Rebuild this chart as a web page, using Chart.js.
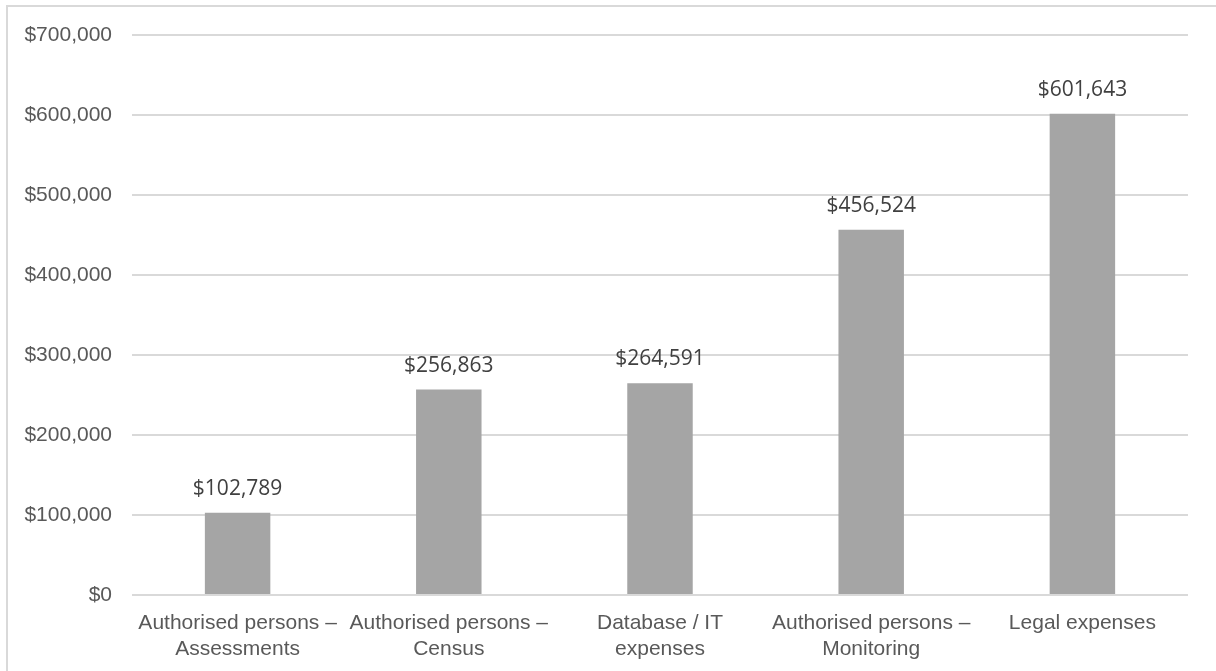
<!DOCTYPE html>
<html>
<head>
<meta charset="utf-8">
<script src="https://cdn.jsdelivr.net/npm/chart.js@4/dist/chart.umd.min.js"></script>
<style>
    body { margin: 0; background: #fff; width: 1216px; height: 671px; overflow: hidden; }
    #frame {
        position: absolute; left: 6px; top: 5px;
        width: 1210px; height: 666px;
        border-top: 2px solid #d9d9d9; border-left: 2px solid #d9d9d9;
    }
    canvas { display: block; }
</style>
</head>
<body>
<div id="frame"><canvas id="costChart" width="1208" height="664"></canvas></div>
<script>
// Data
const categories = [
    ['Authorised persons \u2013', 'Assessments'],
    ['Authorised persons \u2013', 'Census'],
    ['Database / IT', 'expenses'],
    ['Authorised persons \u2013', 'Monitoring'],
    'Legal expenses'
];
const costs = [102789, 256863, 264591, 456524, 601643];
const yTicks = [0, 100000, 200000, 300000, 400000, 500000, 600000, 700000];

const money = v => '$' + v.toLocaleString('en-US');

// Value labels above bars
const barLabels = {
    id: 'barLabels',
    afterDatasetsDraw(chart) {
        const ctx = chart.ctx;
        const meta = chart.getDatasetMeta(0);
        ctx.save();
        ctx.font = '21px "Open Sans"';
        ctx.fillStyle = '#404040';
        ctx.textAlign = 'center';
        ctx.textBaseline = 'alphabetic';
        meta.data.forEach((bar, i) => {
            ctx.fillText(money(costs[i]), bar.x, bar.y - 18);
        });
        ctx.restore();
    }
};

const ctx = document.getElementById('costChart').getContext('2d');
new Chart(ctx, {
    type: 'bar',
    data: {
        labels: categories,
        datasets: [{
            data: costs,
            backgroundColor: '#a5a5a5',
            borderWidth: 0,
            barPercentage: 0.31,
            categoryPercentage: 1
        }]
    },
    options: {
        responsive: false,
        animation: false,
        layout: { padding: { top: 28, right: 28, bottom: 0, left: 0 } },
        plugins: {
            legend: { display: false },
            tooltip: { enabled: false }
        },
        scales: {
            x: {
                grid: { display: false },
                border: { display: false },
                ticks: {
                    color: '#595959',
                    font: { family: '"Liberation Sans", Arial', size: 21, lineHeight: 1.2 },
                    padding: 8,
                    maxRotation: 0,
                    autoSkip: false
                },
                afterFit(scale) { scale.height = 76; }
            },
            y: {
                min: 0,
                max: 700000,
                border: { display: false },
                grid: { color: '#d9d9d9', lineWidth: 2, drawTicks: false },
                afterBuildTicks(scale) { scale.ticks = yTicks.map(v => ({ value: v })); },
                ticks: {
                    color: '#595959',
                    font: { family: '"Liberation Sans", Arial', size: 21 },
                    padding: 20,
                    callback: v => money(v)
                },
                afterFit(scale) {
                    scale.width = 124;
                    scale.paddingTop = 0;
                    scale.paddingBottom = 0;
                }
            }
        }
    },
    plugins: [barLabels]
});
</script>
</body>
</html>
